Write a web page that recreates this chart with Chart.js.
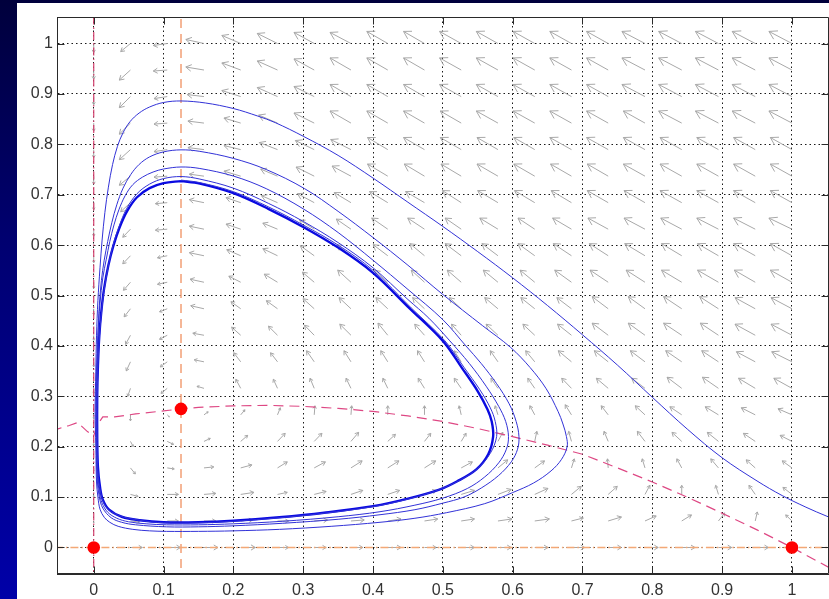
<!DOCTYPE html>
<html>
<head>
<meta charset="utf-8">
<script src="https://cdn.jsdelivr.net/npm/chart.js@4.4.1/dist/chart.umd.min.js"></script>
<style>
  html, body { margin: 0; padding: 0; overflow: hidden; width: 829px; height: 599px; }
  body { background: linear-gradient(to bottom, #00003c 0%, #000070 40%, #0000a8 100%); position: relative; }
  #paper { position: absolute; left: 17px; top: 3px; width: 812px; height: 596px; background: #ffffff; }
  #c { position: absolute; left: 0; top: 0; }
</style>
</head>
<body>
<div id="paper"></div>
<canvas id="c" width="835" height="599"></canvas>
<script>
// Axis ticks
const xTickValues = [0, 0.1, 0.2, 0.3, 0.4, 0.5, 0.6, 0.7, 0.8, 0.9, 1];
const xTickLabels = ['0', '0.1', '0.2', '0.3', '0.4', '0.5', '0.6', '0.7', '0.8', '0.9', '1'];
const yTickValues = [0, 0.1, 0.2, 0.3, 0.4, 0.5, 0.6, 0.7, 0.8, 0.9, 1];
const yTickLabels = ['0', '0.1', '0.2', '0.3', '0.4', '0.5', '0.6', '0.7', '0.8', '0.9', '1'];

// Direction-field sample points (prey x, predator y)
const fieldX = [0, 0.0526, 0.1053, 0.1579, 0.2105, 0.2632, 0.3158, 0.3684, 0.4211, 0.4737,
                0.5263, 0.5789, 0.6316, 0.6842, 0.7368, 0.7895, 0.8421, 0.8947, 0.9474, 1];
const fieldY = [0, 0.0526, 0.1053, 0.1579, 0.2105, 0.2632, 0.3158, 0.3684, 0.4211, 0.4737,
                0.5263, 0.5789, 0.6316, 0.6842, 0.7368, 0.7895, 0.8421, 0.8947, 0.9474, 1];
// Arrow components in hundredths of an axis unit, one row per fieldY value (bottom to top)
const fieldU = [
  [0,1.7,1.9,2.0,2.1,1.6,1.7,1.7,1.9,1.7,1.9,1.9,1.9,1.9,1.9,1.9,1.9,1.9,1.9,0],
  [0,1.3,1.6,1.7,1.7,1.6,1.9,1.9,1.9,1.9,1.9,2.0,2.1,1.7,1.9,1.6,1.4,0.9,0.3,-0.9],
  [0,1.1,1.6,1.7,1.9,1.4,1.7,1.7,1.7,1.7,1.9,1.9,1.9,1.4,1.3,0.7,0,-0.4,-0.9,-1.3],
  [0,0.7,1.0,1.4,1.6,1.4,1.6,1.6,1.6,1.6,1.6,1.4,1.4,0.4,-0.1,-0.4,-0.7,-1.1,-1.3,-1.4],
  [0,0.4,0.9,0.9,1.0,1.1,1.1,1.1,1.1,0.9,0.7,0.7,0.3,-0.4,-0.6,-1.1,-1.4,-1.6,-1.7,-1.7],
  [0,0,0.3,0.6,0.6,0.4,0.1,0.1,0,0,-0.3,-0.4,-0.7,-0.9,-1.0,-1.4,-1.7,-1.9,-2.0,-2.0],
  [0,-0.4,-0.9,-1.0,-0.7,-0.6,-0.6,-0.7,-0.7,-0.9,-1.0,-1.0,-1.0,-1.4,-1.7,-1.9,-2.1,-2.3,-2.4,-2.6],
  [0,-0.6,-1.0,-1.4,-1.0,-1.0,-1.1,-1.0,-1.0,-1.0,-1.0,-1.1,-1.3,-1.9,-2.0,-2.1,-2.3,-2.4,-2.7,-2.9],
  [0,-0.7,-1.1,-1.6,-1.3,-1.3,-1.4,-1.6,-1.4,-1.4,-1.4,-1.7,-1.7,-2.0,-2.3,-2.4,-2.6,-2.6,-2.9,-3.0],
  [0,-0.9,-1.1,-1.9,-1.4,-1.6,-1.6,-1.7,-1.7,-1.7,-1.7,-1.9,-2.0,-2.1,-2.3,-2.4,-2.6,-2.7,-2.9,-3.0],
  [0,-1.0,-1.4,-2.0,-1.7,-1.9,-1.7,-1.9,-1.9,-1.9,-2.0,-2.1,-2.1,-2.4,-2.6,-2.7,-2.9,-3.0,-3.0,-3.1],
  [0,-1.1,-1.4,-2.1,-2.0,-2.1,-2.0,-2.0,-2.1,-2.1,-2.3,-2.3,-2.4,-2.6,-2.7,-2.9,-2.9,-3.0,-3.1,-3.1],
  [0,-1.1,-1.7,-2.1,-2.1,-2.1,-2.1,-2.1,-2.3,-2.4,-2.3,-2.6,-2.4,-2.7,-2.9,-3.0,-3.0,-3.1,-3.1,-3.3],
  [0,-1.4,-1.7,-2.1,-2.1,-2.3,-2.4,-2.4,-2.6,-2.7,-2.7,-2.9,-2.9,-2.9,-3.0,-3.0,-3.1,-3.1,-3.1,-3.1],
  [0,-1.6,-1.9,-2.1,-2.4,-2.4,-2.6,-2.7,-2.9,-2.9,-2.9,-3.0,-3.0,-3.0,-3.0,-3.1,-3.1,-3.1,-3.1,-3.1],
  [0,-1.6,-1.9,-2.3,-2.4,-2.6,-2.7,-2.9,-2.9,-3.0,-3.0,-3.0,-3.0,-3.1,-3.1,-3.1,-3.1,-3.1,-3.1,-3.1],
  [0,-1.6,-1.9,-2.3,-2.4,-2.7,-2.9,-3.0,-3.0,-3.0,-3.0,-3.1,-3.1,-3.1,-3.1,-3.1,-3.3,-3.3,-3.3,-3.3],
  [0,-1.6,-1.9,-2.4,-2.7,-2.9,-2.9,-3.0,-3.0,-3.0,-3.1,-3.1,-3.1,-3.1,-3.1,-3.3,-3.3,-3.3,-3.3,-3.3],
  [0,-1.6,-2.0,-2.6,-2.7,-2.9,-2.9,-3.0,-3.0,-3.0,-3.1,-3.1,-3.1,-3.1,-3.1,-3.3,-3.3,-3.3,-3.3,-3.3],
  [0,-1.4,-2.0,-2.6,-2.7,-2.9,-2.9,-3.0,-3.0,-3.0,-3.1,-3.1,-3.1,-3.1,-3.1,-3.3,-3.3,-3.3,-3.3,-3.3]
];
const fieldV = [
  [0,0,0,0,0,0,0,0,0,0,0,0,0,0,0,0,0,0,0,0],
  [-0.4,-0.2,0,0,0.2,0,0.2,0.2,0.4,0.4,0.4,0.4,0.4,0.6,0.8,1.0,1.2,1.6,1.8,1.2],
  [-0.6,-0.4,0,0.2,0.4,0.4,0.6,0.8,0.8,0.8,0.8,1.0,1.2,1.6,1.6,1.8,1.8,1.8,1.8,1.4],
  [-0.6,-1.2,-0.2,0.2,0.6,1.2,1.2,1.4,1.4,1.4,1.2,1.6,1.4,1.8,1.8,1.8,1.8,1.8,1.6,1.4],
  [-0.8,-1.0,-0.6,0.6,1.2,1.6,1.6,1.8,1.4,1.6,1.6,1.8,2.0,2.0,2.0,2.0,1.8,1.8,1.6,1.2],
  [-0.8,-1.2,-0.4,0.6,1.0,1.4,1.8,1.8,1.8,1.8,1.8,1.8,1.8,2.0,1.8,1.8,1.6,1.6,1.4,1.2],
  [-1.0,-1.6,-1.0,0.4,1.8,1.8,2.0,2.0,2.0,2.0,2.0,2.0,2.0,2.0,2.0,2.0,2.2,2.2,2.0,2.0],
  [-1.0,-1.8,-1.0,0.4,1.8,1.8,2.2,2.2,2.2,2.2,2.2,2.2,2.2,2.2,2.2,2.2,2.2,2.2,2.0,2.0],
  [-1.0,-1.8,-0.8,0.4,1.6,1.8,2.0,2.2,2.4,2.2,2.2,2.2,2.2,2.2,2.4,2.4,2.4,2.4,2.2,2.2],
  [-1.2,-1.6,-0.6,0.6,1.4,1.6,2.0,2.2,2.2,2.2,2.2,2.2,2.2,2.2,2.4,2.4,2.4,2.4,2.2,2.2],
  [-1.2,-1.6,-0.4,0.6,1.2,1.6,2.0,2.4,2.4,2.4,2.4,2.4,2.4,2.4,2.4,2.4,2.4,2.4,2.4,2.4],
  [-1.4,-1.6,-0.4,0.6,1.2,1.4,2.0,2.2,2.2,2.4,2.4,2.4,2.4,2.4,2.4,2.4,2.4,2.4,2.4,2.4],
  [-1.4,-1.6,-0.2,0.6,1.0,1.2,1.8,2.0,2.2,2.2,2.2,2.2,2.2,2.2,2.2,2.2,2.2,2.2,2.2,2.2],
  [-1.4,-1.8,-0.2,0.6,1.0,1.4,1.8,2.0,2.2,2.2,2.4,2.4,2.4,2.4,2.4,2.4,2.4,2.4,2.4,2.4],
  [-1.6,-1.8,-0.2,0.4,1.0,1.4,1.8,2.0,2.4,2.4,2.4,2.4,2.4,2.4,2.4,2.4,2.4,2.4,2.4,2.4],
  [-1.6,-2.0,-0.4,0.4,0.8,1.4,1.8,2.0,2.4,2.4,2.4,2.4,2.4,2.4,2.4,2.4,2.4,2.4,2.4,2.4],
  [-1.6,-2.2,-0.2,0.4,1.0,1.6,2.0,2.4,2.4,2.4,2.4,2.4,2.4,2.4,2.4,2.4,2.4,2.4,2.4,2.4],
  [-1.6,-2.2,-0.4,0.4,1.2,1.8,2.0,2.4,2.4,2.4,2.4,2.4,2.4,2.4,2.4,2.4,2.4,2.4,2.4,2.4],
  [-1.8,-2.0,-0.2,0.6,1.4,1.8,2.2,2.4,2.4,2.4,2.4,2.4,2.4,2.4,2.4,2.4,2.4,2.4,2.4,2.4],
  [-1.8,-1.6,-0.4,0.8,1.6,2.0,2.2,2.2,2.4,2.4,2.4,2.4,2.4,2.4,2.4,2.4,2.4,2.4,2.4,2.4]
];
const fieldUnit = 0.01;

// Trajectory spiralling in towards the limit cycle: [x, y]
const orbitPts = [
  // approach from the right, up to the first maximum
  [1.11,0.033],[1.08,0.046],[1.05,0.062],[1.02,0.08],[0.986,0.103],[0.95,0.132],[0.90,0.178],[0.85,0.235],
  [0.80,0.298],[0.75,0.362],[0.70,0.422],[0.65,0.48],[0.60,0.535],[0.55,0.587],[0.50,0.637],[0.45,0.685],
  [0.40,0.733],[0.35,0.778],[0.30,0.816],[0.26,0.843],[0.235,0.856],[0.20,0.871],[0.16,0.882],[0.125,0.886],
  // first loop
  [0.1,0.883],[0.08,0.874],[0.065,0.862],[0.052,0.845],[0.042,0.823],[0.034,0.796],[0.027,0.76],[0.021,0.715],
  [0.016,0.665],[0.012,0.61],[0.009,0.555],[0.006,0.49],[0.004,0.42],[0.003,0.35],[0.002,0.27],[0.003,0.2],
  [0.004,0.13],[0.006,0.1],[0.009,0.076],[0.015,0.06],[0.023,0.05],[0.035,0.042],[0.056,0.036],[0.08,0.033],
  [0.104,0.032],[0.15,0.032],[0.2,0.033],[0.266,0.036],[0.34,0.042],[0.41,0.05],[0.46,0.058],[0.505,0.069],
  [0.56,0.087],[0.60,0.109],[0.63,0.128],[0.655,0.152],[0.67,0.175],[0.678,0.2],[0.677,0.22],[0.672,0.245],
  [0.665,0.27],[0.648,0.315],[0.625,0.357],[0.597,0.397],[0.557,0.44],[0.5,0.502],[0.45,0.56],[0.4,0.615],
  [0.35,0.667],[0.302,0.712],[0.247,0.75],[0.2,0.772],[0.152,0.786],[0.125,0.789],
  // second loop
  [0.1,0.785],[0.08,0.775],[0.065,0.76],[0.053,0.74],[0.042,0.713],[0.033,0.68],[0.026,0.645],[0.02,0.607],
  [0.015,0.57],[0.011,0.53],[0.008,0.48],[0.006,0.42],[0.004,0.35],[0.003,0.27],[0.004,0.19],[0.005,0.135],
  [0.008,0.1],[0.013,0.078],[0.025,0.059],[0.04,0.05],[0.06,0.045],[0.104,0.041],[0.15,0.041],[0.2,0.043],
  [0.27,0.048],[0.35,0.056],[0.41,0.065],[0.46,0.075],[0.5,0.088],[0.53,0.1],[0.555,0.118],[0.58,0.143],
  [0.598,0.17],[0.607,0.195],[0.609,0.22],[0.605,0.25],[0.595,0.285],[0.577,0.325],[0.555,0.365],[0.533,0.40],
  [0.5,0.452],[0.45,0.512],[0.4,0.57],[0.35,0.625],[0.3,0.672],[0.247,0.712],[0.2,0.737],[0.152,0.752],[0.125,0.755],
  // third loop
  [0.1,0.751],[0.085,0.745],[0.07,0.735],[0.056,0.72],[0.045,0.698],[0.036,0.67],[0.029,0.64],[0.023,0.607],
  [0.018,0.572],[0.013,0.535],[0.009,0.485],[0.006,0.42],[0.005,0.35],[0.004,0.28],[0.004,0.2],[0.005,0.145],
  [0.008,0.11],[0.012,0.088],[0.02,0.07],[0.033,0.058],[0.05,0.051],[0.075,0.047],[0.104,0.045],[0.15,0.045],
  [0.2,0.047],[0.27,0.052],[0.35,0.061],[0.41,0.071],[0.46,0.084],[0.5,0.098],[0.535,0.117],[0.56,0.14],
  [0.58,0.168],[0.591,0.195],[0.594,0.22],[0.59,0.25],[0.58,0.28],[0.562,0.32],[0.538,0.365],[0.51,0.41],
  [0.48,0.455],[0.45,0.492],[0.4,0.555],[0.35,0.605],[0.3,0.647],[0.25,0.683],[0.2,0.713],[0.152,0.731],[0.125,0.736],
  // fourth loop, merging into the cycle
  [0.1,0.732],[0.08,0.721],[0.062,0.702],[0.047,0.672],[0.036,0.636],[0.027,0.597],[0.02,0.552],[0.014,0.502],
  [0.01,0.45],[0.007,0.39],[0.005,0.3],[0.005,0.21],[0.006,0.152],[0.01,0.108],[0.018,0.08],[0.035,0.064],
  [0.066,0.054],[0.1,0.049],[0.15,0.049],[0.2,0.052],[0.266,0.059],[0.33,0.068],[0.4,0.081],[0.45,0.096],
  [0.495,0.115],[0.525,0.134],[0.55,0.157],[0.568,0.187],[0.577,0.22],[0.575,0.25],[0.568,0.277],[0.553,0.313],
  [0.53,0.358],[0.503,0.41],[0.455,0.475],[0.4,0.55],[0.35,0.6],[0.3,0.64],[0.25,0.676],[0.2,0.706],[0.152,0.724],[0.125,0.729]
];

// Limit cycle: [x, y]
const cyclePts = [
  [0.125,0.727],[0.1,0.723],[0.08,0.713],[0.062,0.695],[0.048,0.668],[0.037,0.635],[0.028,0.598],[0.021,0.56],
  [0.015,0.515],[0.011,0.47],[0.008,0.42],[0.006,0.36],[0.005,0.3],[0.005,0.22],[0.006,0.16],[0.009,0.12],
  [0.013,0.095],[0.022,0.075],[0.04,0.061],[0.066,0.054],[0.1,0.05],[0.15,0.05],[0.2,0.053],[0.266,0.06],
  [0.33,0.069],[0.4,0.082],[0.45,0.097],[0.495,0.115],[0.52,0.131],[0.548,0.155],[0.565,0.185],[0.572,0.22],
  [0.57,0.25],[0.564,0.274],[0.55,0.31],[0.528,0.355],[0.5,0.41],[0.452,0.475],[0.4,0.545],[0.35,0.595],
  [0.3,0.636],[0.25,0.672],[0.2,0.703],[0.152,0.722],[0.125,0.727]
];

// Prey nullcline (hump-shaped curve)
const preyNullX = [-0.06,-0.05,-0.035,-0.023,-0.009,0,0.006,0.013,0.03,0.06,0.1,0.125,0.15,0.2,0.25,0.3,
                   0.35,0.4,0.45,0.5,0.55,0.6,0.65,0.7,0.75,0.8,0.85,0.9,0.95,1.0,1.06];
const preyNullY = [0.232,0.236,0.242,0.248,0.230,0.222,0.245,0.259,0.259,0.265,0.271,0.275,0.278,0.281,0.282,0.28,
                   0.276,0.27,0.261,0.25,0.236,0.22,0.203,0.185,0.158,0.13,0.1,0.068,0.035,0.0,-0.045];
// Straight nullclines
const preyAxisX = 0;         // x = 0
const predAxisY = 0;         // y = 0
const predVerticalX = 0.125; // x = 0.125

// Equilibria
const eqX = [0, 1, 0.125];
const eqY = [0, 0, 0.275];

const toXY = (xs, ys) => xs.map((x, i) => ({ x: x, y: ys[i] }));
const pairs = pts => pts.map(p => ({ x: p[0], y: p[1] }));

// Gray direction-field arrows (shaft plus two-stroke head)
const quiverPlugin = {
  id: 'quiver',
  beforeDatasetsDraw(chart) {
    const { ctx, chartArea: a, scales: { x, y } } = chart;
    const alpha = 0.3, beta = 0.6;
    ctx.save();
    ctx.beginPath();
    ctx.rect(a.left, a.top, a.right - a.left, a.bottom - a.top);
    ctx.clip();
    ctx.strokeStyle = 'rgb(168,168,168)';
    ctx.lineWidth = 1;
    for (let j = 0; j < fieldY.length; j++) {
      for (let i = 0; i < fieldX.length; i++) {
        const u = fieldU[j][i] * fieldUnit, v = fieldV[j][i] * fieldUnit;
        if (u === 0 && v === 0) continue;
        const x0 = x.getPixelForValue(fieldX[i]), y0 = y.getPixelForValue(fieldY[j]);
        const x1 = x.getPixelForValue(fieldX[i] + u), y1 = y.getPixelForValue(fieldY[j] + v);
        const dx = x1 - x0, dy = y1 - y0;
        ctx.beginPath();
        ctx.moveTo(x0, y0);
        ctx.lineTo(x1, y1);
        ctx.moveTo(x1 - alpha * (dx + beta * dy), y1 - alpha * (dy - beta * dx));
        ctx.lineTo(x1, y1);
        ctx.lineTo(x1 - alpha * (dx - beta * dy), y1 - alpha * (dy + beta * dx));
        ctx.stroke();
      }
    }
    ctx.restore();
  }
};

// Box outline with inward ticks on all four sides
const framePlugin = {
  id: 'frame',
  afterDraw(chart) {
    const { ctx, chartArea: a, scales: { x, y } } = chart;
    const len = 7;
    ctx.save();
    ctx.strokeStyle = '#2a2a2a';
    ctx.lineWidth = 1;
    ctx.beginPath();
    const L = Math.round(a.left) + 0.5, R = Math.round(a.right) - 0.5;
    const T = Math.round(a.top) + 0.5, B = Math.round(a.bottom) - 0.5;
    ctx.moveTo(L, T); ctx.lineTo(R, T); ctx.lineTo(R, B); ctx.lineTo(L, B); ctx.closePath();
    xTickValues.forEach(v => {
      const px = Math.round(x.getPixelForValue(v)) + 0.5;
      ctx.moveTo(px, B); ctx.lineTo(px, B - len);
      ctx.moveTo(px, T); ctx.lineTo(px, T + len);
    });
    yTickValues.forEach(v => {
      const py = Math.round(y.getPixelForValue(v)) + 0.5;
      ctx.moveTo(L, py); ctx.lineTo(L + len, py);
      ctx.moveTo(R, py); ctx.lineTo(R - len, py);
    });
    ctx.stroke();
    ctx.restore();
  }
};

const tickFont = { family: '"Liberation Sans", Arial, Helvetica, sans-serif', size: 16 };

new Chart(document.getElementById('c'), {
  type: 'scatter',
  data: {
    datasets: [
      {
        label: 'equilibria', data: toXY(eqX, eqY), showLine: false,
        pointRadius: 6.3, pointBackgroundColor: '#ff0000', pointBorderColor: '#ff0000', pointBorderWidth: 0,
        order: 0, clip: false
      },
      {
        label: 'orbit', data: pairs(orbitPts), showLine: true, pointRadius: 0,
        borderColor: 'rgb(50,50,215)', borderWidth: 1, tension: 0.35, order: 1
      },
      {
        label: 'limit cycle', data: pairs(cyclePts), showLine: true, pointRadius: 0,
        borderColor: 'rgb(10,10,225)', borderWidth: 2.4, tension: 0.35, order: 1
      },
      {
        label: 'prey nullcline', data: toXY(preyNullX, preyNullY), showLine: true, pointRadius: 0,
        borderColor: 'rgb(222,72,132)', borderWidth: 1.2, borderDash: [10, 6], order: 2
      },
      {
        label: 'x = 0', data: [{ x: preyAxisX, y: -0.1 }, { x: preyAxisX, y: 1.1 }], showLine: true, pointRadius: 0,
        borderColor: 'rgb(212,64,110)', borderWidth: 1.2, borderDash: [8, 3, 1.5, 3], order: 2
      },
      {
        label: 'y = 0', data: [{ x: -0.1, y: predAxisY }, { x: 1.1, y: predAxisY }], showLine: true, pointRadius: 0,
        borderColor: 'rgb(243,168,118)', borderWidth: 1.4, borderDash: [8, 3, 1.5, 3], order: 2
      },
      {
        label: 'x = 0.125', data: [{ x: predVerticalX, y: -0.1 }, { x: predVerticalX, y: 1.1 }], showLine: true, pointRadius: 0,
        borderColor: 'rgb(243,165,125)', borderWidth: 1.6, borderDash: [9, 6], order: 2
      }
    ]
  },
  options: {
    responsive: false,
    animation: false,
    events: [],
    layout: { padding: { left: 0, top: 17, right: 1, bottom: 0 } },
    plugins: { legend: { display: false }, tooltip: { enabled: false } },
    scales: {
      x: {
        type: 'linear', min: -0.0526, max: 1.0526,
        afterBuildTicks: s => { s.ticks = xTickValues.map(v => ({ value: v })); },
        afterFit: s => { s.height = 25; },
        ticks: { callback: (v, i) => xTickLabels[i], color: '#333333', font: tickFont, padding: 7, maxRotation: 0, autoSkip: false },
        grid: { color: 'rgba(0,0,0,0.9)', lineWidth: 1, drawTicks: false },
        border: { display: true, color: '#2a2a2a', width: 1, dash: [1.5, 3] }
      },
      y: {
        type: 'linear', min: -0.0526, max: 1.0526,
        afterBuildTicks: s => { s.ticks = yTickValues.map(v => ({ value: v })); },
        afterFit: s => { s.width = 57; },
        ticks: { callback: (v, i) => yTickLabels[i], color: '#333333', font: tickFont, padding: 4, autoSkip: false },
        grid: { color: 'rgba(0,0,0,0.9)', lineWidth: 1, drawTicks: false },
        border: { display: true, color: '#2a2a2a', width: 1, dash: [1.5, 3] }
      }
    }
  },
  plugins: [quiverPlugin, framePlugin]
});
</script>
</body>
</html>
